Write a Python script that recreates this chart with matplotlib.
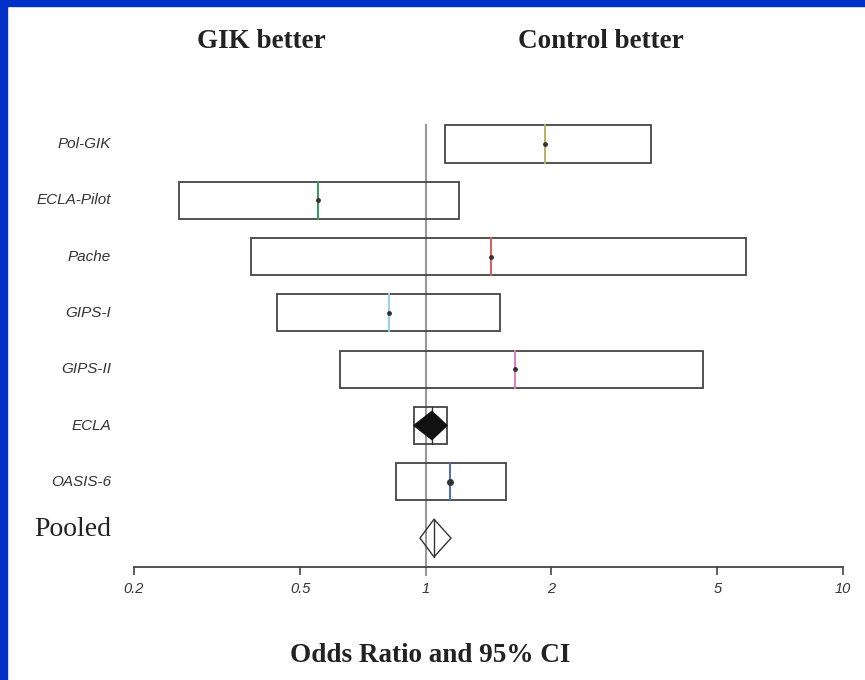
import matplotlib

matplotlib.use('Agg')
import matplotlib.pyplot as plt
from matplotlib.patches import Rectangle, Polygon

# данные исследований (отношение шансов и 95% ДИ)
studies = ['Pol-GIK', 'ECLA-Pilot', 'Pache', 'GIPS-I', 'GIPS-II', 'ECLA', 'OASIS-6']
odds = [1.93, 0.552, 1.43, 0.817, 1.637, 1.035, 1.143]
ci_low = [1.11, 0.256, 0.381, 0.440, 0.623, 0.937, 0.849]
ci_high = [3.47, 1.20, 5.86, 1.507, 4.62, 1.125, 1.557]
colors = ['#b5b35a', '#2ca05a', '#e05a5a', '#8fd3e8', '#d97fc4', '#222222', '#4a6cc8']

pooled_or = 1.047
pooled_low = 0.969
pooled_high = 1.15

ticks = [0.2, 0.5, 1, 2, 5, 10]
tick_labels = ['0.2', '0.5', '1', '2', '5', '10']

W, H = 865, 680
fig = plt.figure(figsize=(W / 100, H / 100), dpi=100)
fig.patch.set_facecolor('white')

# синяя рамка слева и сверху
fig.add_artist(Rectangle((0, 0), 7 / W, 1, transform=fig.transFigure, color='#0030c8', zorder=10))
fig.add_artist(Rectangle((0, 1 - 6 / H), 1, 6 / H, transform=fig.transFigure, color='#0030c8', zorder=10))

ax = fig.add_axes([134 / W, 1 - 567 / H, (843 - 134) / W, (567 - 100) / H])
ax.set_xscale('log')
ax.set_xlim(0.2, 10)
row_step = 56.3
ax.set_ylim((567 - 144) / row_step, (100 - 144) / row_step)

# подписи исследований: x в долях фигуры, y в данных
lbl_tr = matplotlib.transforms.blended_transform_factory(fig.transFigure, ax.transData)

half = 0.33
edge = '#444444'
for i, name in enumerate(studies):
    lo, hi, c = ci_low[i], ci_high[i], odds[i]
    ax.add_patch(Rectangle((lo, i - half), hi - lo, 2 * half, fill=False,
                           edgecolor=edge, lw=1.3, zorder=3))
    if name == 'ECLA':
        dh = 0.25
        ax.add_patch(Polygon([(lo, i), (c, i - dh), (hi, i), (c, i + dh)],
                             closed=True, facecolor='#111111', edgecolor='#111111', zorder=4))
        ax.plot([c, c], [i - half, i + half], color='#333333', lw=1.0, zorder=3)
    else:
        ax.plot([c, c], [i - half, i + half], color=colors[i], lw=1.4, zorder=4)
        ax.plot(c, i, 'o', color='#333333', ms=2.5 if name != 'OASIS-6' else 4, zorder=5)
    ax.text(111 / W, i, name, ha='right', va='center', fontsize=11,
            style='italic', color='#333333', family='Liberation Sans',
            transform=lbl_tr, clip_on=False)

# общий (pooled) результат
pi = len(studies)
pdh = 0.335
ax.add_patch(Polygon([(pooled_low, pi), (pooled_or, pi - pdh), (pooled_high, pi), (pooled_or, pi + pdh)],
                     closed=True, fill=False, edgecolor='#333333', lw=1.0, zorder=4))
ax.plot([pooled_or, pooled_or], [pi - pdh, pi + pdh], color='#333333', lw=1.0, zorder=4)

# линия OR = 1
ax.plot([1, 1], [-half, (575 - 144) / row_step], color='#999999', lw=1.5, zorder=2, clip_on=False)

for s in ['top', 'right', 'left']:
    ax.spines[s].set_visible(False)
ax.spines['bottom'].set_color('#444444')
ax.spines['bottom'].set_linewidth(1.3)
ax.set_yticks([])
ax.set_xticks(ticks)
ax.set_xticklabels(tick_labels, fontsize=10.5, style='italic', color='#333333', family='Liberation Sans')
ax.minorticks_off()
ax.tick_params(axis='x', length=6, width=1.2, color='#444444', pad=5)

fig.text(111 / W, 1 - 530 / H, 'Pooled', ha='right', va='center', fontsize=20,
         family='Liberation Serif', color='#222222')
fig.text(261 / W, 1 - 41 / H, 'GIK better', ha='center', va='center', fontsize=19.5,
         family='Liberation Serif', weight='bold', color='#222222')
fig.text(601 / W, 1 - 41 / H, 'Control better', ha='center', va='center', fontsize=19.5,
         family='Liberation Serif', weight='bold', color='#222222')
fig.text(430 / W, 1 - 655 / H, 'Odds Ratio and 95% CI', ha='center', va='center', fontsize=19.5,
         family='Liberation Serif', weight='bold', color='#222222')

plt.savefig('out.png', dpi=100)
